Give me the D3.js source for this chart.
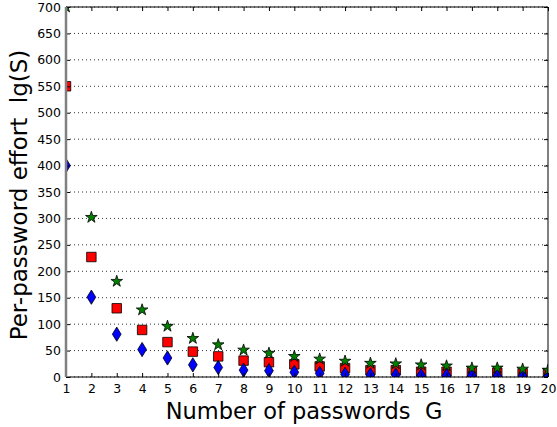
<!DOCTYPE html>
<html>
<head>
<meta charset="utf-8">
<script src="https://cdn.jsdelivr.net/npm/d3@7"></script>
<style>
body { margin: 0; background: #fff; }
text { font-family: "DejaVu Sans", sans-serif; }
</style>
</head>
<body>
<div id="chart"></div>
<script>
var width = 557, height = 427;
var margin = {top: 7, right: 9, bottom: 50, left: 66};

// number of passwords G
var groups = d3.range(1, 21);
// per-password effort lg(S), three series
var diamondVals = [400, 151, 81, 52, 36, 23, 18, 13, 12, 9, 7, 5, 4, 4, 3, 3, 3, 2, 2, 2];
var squareVals  = [550, 227, 130, 89, 66, 48, 39, 31, 28, 24, 20, 17, 13, 13, 10, 10, 9, 8, 7, 7];
var starVals    = [700, 302, 181, 127, 96, 73, 61, 51, 45, 39, 34, 30, 26, 25, 23, 21, 17, 17, 15, 13];
var yTicks = d3.range(0, 701, 50);

var w = width - margin.left - margin.right;
var h = height - margin.top - margin.bottom;

var x = d3.scaleLinear().domain([1, 20]).range([0, w]);
var y = d3.scaleLinear().domain([0, 700]).range([h, 0]);

var svg = d3.select("#chart").append("svg")
  .attr("width", width)
  .attr("height", height);

var g = svg.append("g")
  .attr("transform", "translate(" + margin.left + "," + margin.top + ")");

g.append("clipPath").attr("id", "clip")
  .append("rect").attr("width", w).attr("height", h);

// horizontal dotted grid
g.selectAll(".grid").data(yTicks).enter().append("line")
  .attr("x1", 0).attr("x2", w)
  .attr("y1", d => y(d)).attr("y2", d => y(d))
  .attr("stroke", "#000").attr("stroke-width", 0.8)
  .attr("stroke-dasharray", "1,3");

// markers
var plot = g.append("g").attr("clip-path", "url(#clip)");

function addSeries(vals, shape, size, color) {
  plot.selectAll(null).data(vals).enter().append("path")
    .attr("d", d3.symbol().type(shape).size(size))
    .attr("transform", (d, i) => "translate(" + x(groups[i]) + "," + y(d) + ")")
    .attr("fill", color)
    .attr("stroke", "#000")
    .attr("stroke-width", 0.8);
}

// thin diamond
var thinDiamond = {
  draw: function(ctx, size) {
    var r = Math.sqrt(size) / 2;
    ctx.moveTo(0, -r * 1.3);
    ctx.lineTo(r * 0.8, 0);
    ctx.lineTo(0, r * 1.3);
    ctx.lineTo(-r * 0.8, 0);
    ctx.closePath();
  }
};

addSeries(squareVals, d3.symbolSquare, 90, "#ff0000");
addSeries(diamondVals, thinDiamond, 120, "#0000ff");
addSeries(starVals, d3.symbolStar, 42, "#007f00");

// axes with inward ticks on all sides
var xAxis = d3.axisBottom(x).tickValues(groups).tickFormat(d3.format("d")).tickSizeInner(-4).tickSizeOuter(0).tickPadding(7);
var yAxis = d3.axisLeft(y).tickValues(yTicks).tickSizeInner(-4).tickSizeOuter(0).tickPadding(5);

var gx = g.append("g").attr("transform", "translate(0," + h + ")").call(xAxis);
var gy = g.append("g").call(yAxis);
var gxt = g.append("g").call(d3.axisTop(x).tickValues(groups).tickSizeInner(-4).tickSizeOuter(0).tickFormat(""));
var gyr = g.append("g").attr("transform", "translate(" + w + ",0)")
  .call(d3.axisRight(y).tickValues(yTicks).tickSizeInner(-4).tickSizeOuter(0).tickFormat(""));

[gx, gy, gxt, gyr].forEach(function(a) {
  a.select(".domain").remove();
  a.selectAll(".tick line").attr("stroke", "#000");
  a.selectAll("text").attr("font-size", 12.5).attr("fill", "#000")
    .style("font-family", "'DejaVu Sans', sans-serif");
});

// frame
g.append("line").attr("x1", 0).attr("x2", w).attr("y1", 0).attr("y2", 0).attr("stroke", "#000");
g.append("line").attr("x1", 0).attr("x2", w).attr("y1", h).attr("y2", h).attr("stroke", "#000");
g.append("line").attr("x1", w).attr("x2", w).attr("y1", 0).attr("y2", h).attr("stroke", "#000");
g.append("line").attr("x1", 0).attr("x2", 0).attr("y1", 0).attr("y2", h).attr("stroke", "#808080").attr("stroke-width", 2.5);

// axis titles
svg.append("text")
  .attr("x", margin.left + w / 2 - 3).attr("y", 419)
  .attr("text-anchor", "middle").attr("font-size", 22.5)
  .text("Number of passwords\u00a0\u00a0G");

svg.append("text")
  .attr("transform", "translate(27," + (margin.top + h / 2 + 3) + ") rotate(-90)")
  .attr("text-anchor", "middle").attr("font-size", 23)
  .text("Per-password effort\u00a0\u00a0lg(S)");
</script>
</body>
</html>
